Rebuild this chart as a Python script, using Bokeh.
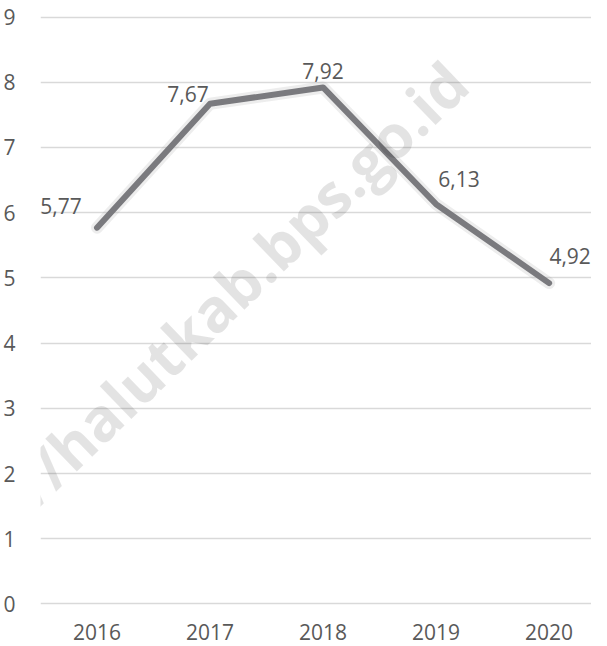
from bokeh.plotting import figure
from bokeh.models import Range1d, FixedTicker, Label, ColumnDataSource
from bokeh.embed import file_html
from bokeh.resources import INLINE
from bokeh.core.properties import value

years = [2016, 2017, 2018, 2019, 2020]
values = [5.77, 7.67, 7.92, 6.13, 4.92]
value_labels = ["5,77", "7,67", "7,92", "6,13", "4,92"]
y_ticks = [0, 1, 2, 3, 4, 5, 6, 7, 8, 9]
label_dx = [-36, -22, 0, 23, 21]
label_dy = [-22, -10, -16, -25, -27]

FONT = "Open Sans"
TXT = "#595959"

p = figure(width=591, height=646, output_backend="svg", toolbar_location=None,
           x_range=Range1d(2015.5, 2020.375), y_range=Range1d(-0.1, 9.1),
           min_border_left=34, min_border_right=0, min_border_top=10, min_border_bottom=36)
p.outline_line_color = None
p.background_fill_color = "white"
p.border_fill_color = "white"

p.xgrid.grid_line_color = None
p.ygrid.grid_line_color = "#d9d9d9"
p.ygrid.grid_line_width = 1.5

src = ColumnDataSource(dict(x=years, y=values, t=value_labels, dx=label_dx, dy=label_dy))
p.line("x", "y", source=src, line_color="#999999", line_width=12, line_alpha=0.18,
       line_join="round", line_cap="round")
p.line("x", "y", source=src, line_color="#7a7a7e", line_width=6,
       line_join="round", line_cap="round")
p.text("x", "y", text="t", source=src, x_offset="dx", y_offset="dy",
       text_align="center", text_baseline="middle", text_font=value(FONT),
       text_font_size="21px", text_color=TXT)

# watermark
wm = Label(x=2019.185, y=8.15, text="https://halutkab.bps.go.id", angle=44, angle_units="deg",
           text_align="right", text_baseline="middle", text_font=FONT, text_font_style="bold",
           text_font_size="60px", text_color="black", text_alpha=0.11)
p.add_layout(wm)

for ax in (p.xaxis[0], p.yaxis[0]):
    ax.axis_line_color = None
    ax.major_tick_line_color = None
    ax.minor_tick_line_color = None
    ax.major_label_text_font = FONT
    ax.major_label_text_font_size = "21px"
    ax.major_label_text_color = TXT

p.xaxis[0].ticker = FixedTicker(ticks=years)
p.xaxis[0].major_label_standoff = 7
p.yaxis[0].ticker = FixedTicker(ticks=y_ticks)
p.yaxis[0].major_label_standoff = 19

open("out.html", "w").write(file_html(p, INLINE))
